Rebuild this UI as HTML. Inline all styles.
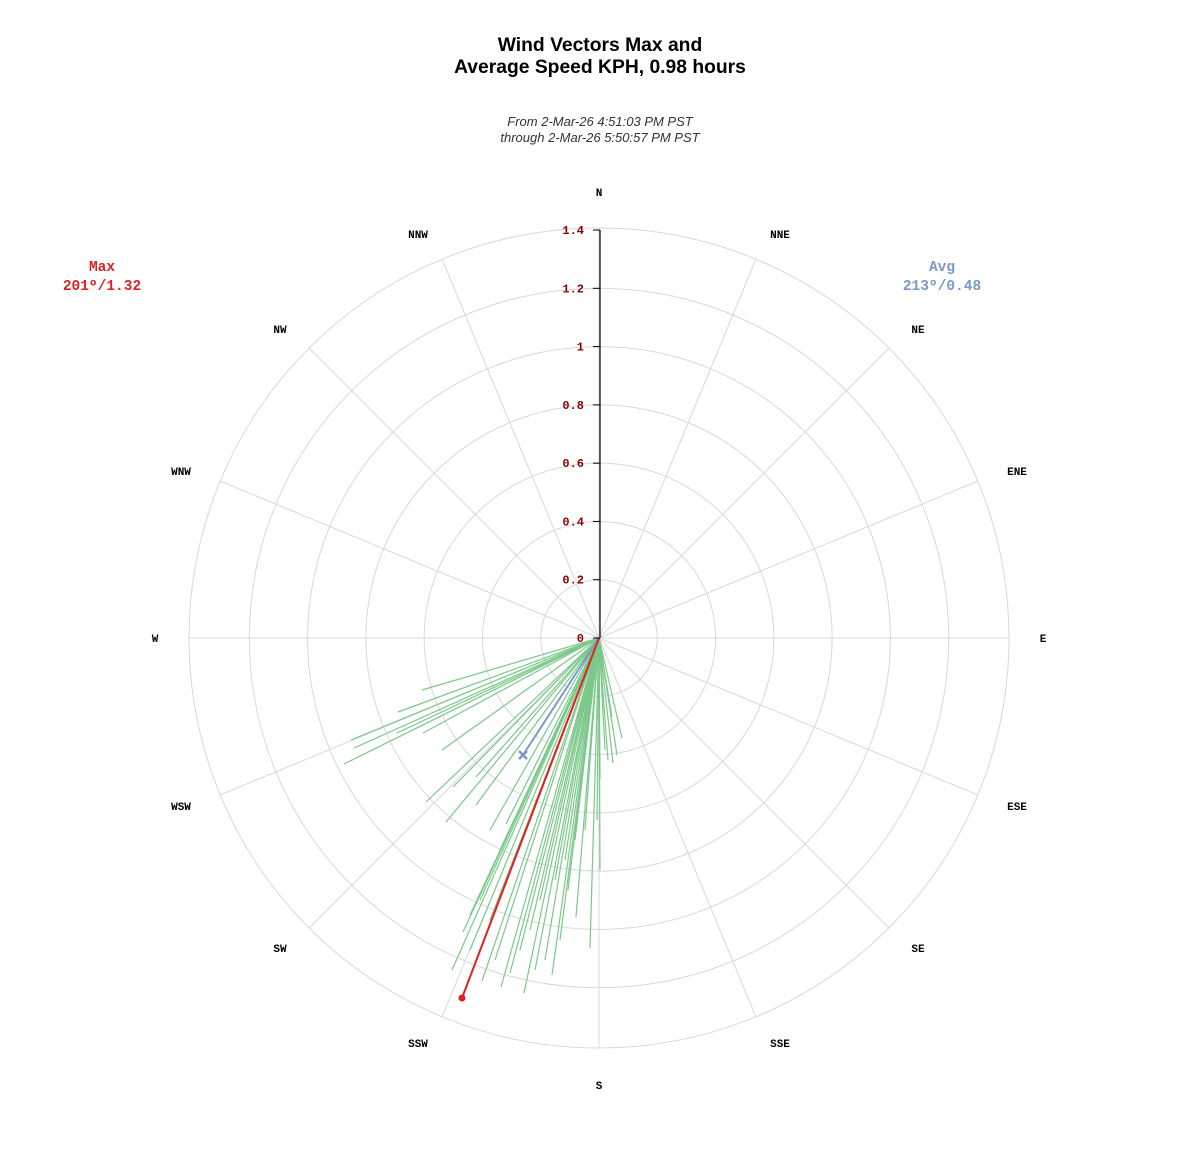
<!DOCTYPE html>
<html><head><meta charset="utf-8"><style>
body{margin:0;background:#fff;}
svg{display:block;}
</style></head><body>
<svg id="s" width="1200" height="1150" xmlns="http://www.w3.org/2000/svg">
<text x="600" y="51" text-anchor="middle" font-family="Liberation Sans, sans-serif" font-size="19.3" font-weight="bold">Wind Vectors Max and</text>
<text x="600" y="73" text-anchor="middle" font-family="Liberation Sans, sans-serif" font-size="19.3" font-weight="bold">Average Speed KPH, 0.98 hours</text>
<text x="600" y="126" text-anchor="middle" font-family="Liberation Sans, sans-serif" font-size="13" font-style="italic" fill="#333">From 2-Mar-26 4:51:03 PM PST</text>
<text x="600" y="142" text-anchor="middle" font-family="Liberation Sans, sans-serif" font-size="13" font-style="italic" fill="#333">through 2-Mar-26 5:50:57 PM PST</text>
<text x="102" y="271" text-anchor="middle" font-family="Liberation Mono, monospace" font-size="14.5" font-weight="bold" fill="#dd2222">Max</text>
<text x="102" y="290" text-anchor="middle" font-family="Liberation Mono, monospace" font-size="14.5" font-weight="bold" fill="#dd2222">201º/1.32</text>
<text x="942" y="271" text-anchor="middle" font-family="Liberation Mono, monospace" font-size="14.5" font-weight="bold" fill="#7d97cc">Avg</text>
<text x="942" y="290" text-anchor="middle" font-family="Liberation Mono, monospace" font-size="14.5" font-weight="bold" fill="#7d97cc">213º/0.48</text>
<g id="g"></g>
</svg>
<script>
var cx=599,cy=638,k=291.4,R=410,ns="http://www.w3.org/2000/svg",g=document.getElementById('g');
function el(t,a,txt){var e=document.createElementNS(ns,t);for(var i in a)e.setAttribute(i,a[i]);if(txt!=null)e.textContent=txt;g.appendChild(e);return e;}
for(var i=1;i<=7;i++)el('circle',{cx:cx,cy:cy,r:i===7?R:i*0.2*k,fill:'none',stroke:'#d8d8d8','stroke-width':1});
var names=['N','NNE','NE','ENE','E','ESE','SE','SSE','S','SSW','SW','WSW','W','WNW','NW','NNW'];
var pos=[[599,192],[780,234],[918,329],[1017,471],[1043,638],[1017,806],[918,948],[780,1043],[599,1085],[418,1043],[280,948],[181,806],[155,638],[181,471],[280,329],[418,234]];
for(var i=0;i<16;i++){var a=i*22.5*Math.PI/180;
 el('line',{x1:cx,y1:cy,x2:cx+R*Math.sin(a),y2:cy-R*Math.cos(a),stroke:'#d8d8d8','stroke-width':1});
 el('text',{x:pos[i][0],y:pos[i][1]+4,'text-anchor':'middle','font-family':'Liberation Mono, monospace','font-size':11,'font-weight':'bold'},names[i]);}
var ends=[[422,690],[398,712],[351,740],[354,748],[344,764],[397,733],[423,733],[442,750],[426,802],[446,822],[453,787],[476,777],[476,805],[506,824],[463,932],[452,970],[482,981],[501,987],[510,973],[524,993],[552,975],[576,917],[590,948],[600,779],[613,763],[617,755],[622,738],[612,717],
[480,900],[490,920],[470,950],[520,950],[530,930],[540,900],[555,880],[565,860],[575,840],[585,830],[560,940],[545,960],[495,960],[510,870],[500,850],[605,750],[608,760],[490,830],[470,915],[535,970],[568,890],[597,820],[600,870]];
ends.forEach(function(p){el('line',{x1:cx,y1:cy,x2:p[0],y2:p[1],stroke:'#7cc88a','stroke-width':1.2});});
el('line',{x1:cx,y1:cy,x2:523,y2:755,stroke:'#7d97cc','stroke-width':2});
el('path',{d:'M519 751 L527 759 M527 751 L519 759',stroke:'#7d97cc','stroke-width':2.5});
el('line',{x1:cx,y1:cy,x2:462,y2:998,stroke:'#dd2222','stroke-width':2});
el('circle',{cx:462,cy:998,r:3.5,fill:'#dd2222'});
el('line',{x1:cx+1,y1:cy,x2:cx+1,y2:230,stroke:'#000','stroke-width':1.2});
for(var i=0;i<=7;i++){var y=cy-i*0.2*k;
 el('line',{x1:cx-6,y1:y,x2:cx+1,y2:y,stroke:'#000','stroke-width':1});
 var lab=i===0?'0':(i===5?'1':(i*0.2).toFixed(1).replace(/\.0$/,''));
 el('text',{x:cx-15,y:y+4,'text-anchor':'end','font-family':'Liberation Mono, monospace','font-size':12,'font-weight':'bold',fill:'#8b0000'},lab);}
</script>
</body></html>
